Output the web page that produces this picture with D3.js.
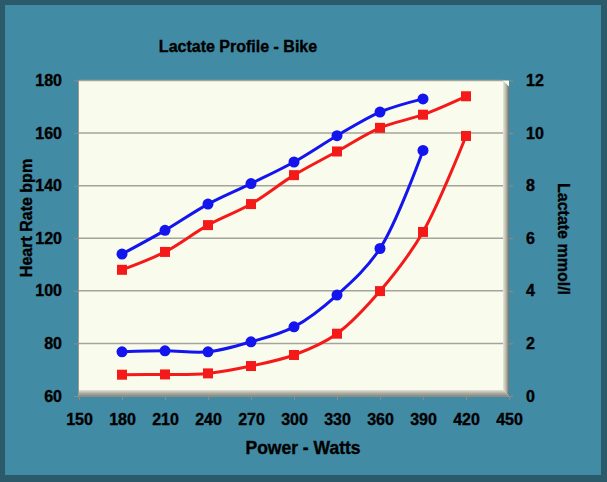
<!DOCTYPE html>
<html><head><meta charset="utf-8">
<script src="https://cdn.jsdelivr.net/npm/d3@7"></script>
<style>
html,body{margin:0;padding:0;background:#2B5A6B;}
svg{display:block;}
text{font-family:"Liberation Sans",Arial,sans-serif;font-weight:bold;fill:#000;stroke:#000;stroke-width:0.35px;}
</style></head>
<body>
<script>
// ---- data ----
const powerHR1 = [180,210,240,270,300,330,360,390];
const heartRate1 = [114,123,133,140.8,149,159,168,173];
const lactate1 = [1.68,1.72,1.68,2.06,2.63,3.84,5.61,9.34];

const powerHR2 = [180,210,240,270,300,330,360,390,420];
const heartRate2 = [108,114.8,125,133,144,153,162,167,174];
const lactate2 = [0.81,0.82,0.86,1.14,1.56,2.37,3.99,6.24,9.89];

const xTicks = [150,180,210,240,270,300,330,360,390,420,450];
const hrTicks = [60,80,100,120,140,160,180];
const lacTicks = [0,2,4,6,8,10,12];

const W = 607, H = 482;
const svg = d3.select("body").append("svg").attr("width",W).attr("height",H);

// frame
svg.append("rect").attr("x",0).attr("y",0).attr("width",W).attr("height",H).attr("fill","#2B5A6B");
svg.append("rect").attr("x",5).attr("y",5).attr("width",596).attr("height",470).attr("fill","#418BA5");

const L = 79, R = 509, T = 80.5, B = 396;
const x = d3.scaleLinear().domain([150,450]).range([L,R]);
const yL = d3.scaleLinear().domain([60,180]).range([B,T]);
const yR = d3.scaleLinear().domain([0,12]).range([B,T]);

// plot area
const defs = svg.append("defs");
const gR = defs.append("linearGradient").attr("id","gr").attr("x1",0).attr("x2",1).attr("y1",0).attr("y2",0);
gR.append("stop").attr("offset",0).attr("stop-color","#E6E8D8");
gR.append("stop").attr("offset",0.5).attr("stop-color","#B8B8AC");
gR.append("stop").attr("offset",1).attr("stop-color","#6E6E6A");
const gB = defs.append("linearGradient").attr("id","gb").attr("x1",0).attr("x2",0).attr("y1",0).attr("y2",1);
gB.append("stop").attr("offset",0).attr("stop-color","#E2E4D4");
gB.append("stop").attr("offset",0.5).attr("stop-color","#B0B0A4");
gB.append("stop").attr("offset",1).attr("stop-color","#8A8A84");

svg.append("rect").attr("x",L).attr("y",T).attr("width",R-L).attr("height",B-T).attr("fill","#F9FCEC");
// right wall
svg.append("polygon").attr("points",`${R-6},${T} ${R},${T+6} ${R},${B} ${R-6},${B-6}`).attr("fill","url(#gr)");
// floor
svg.append("polygon").attr("points",`${L},${B-6} ${R-6},${B-6} ${R},${B} ${L},${B}`).attr("fill","url(#gb)");
svg.append("line").attr("x1",L-0.5).attr("x2",L-0.5).attr("y1",T).attr("y2",B).attr("stroke","#9A9A90").attr("stroke-width",1);

// gridlines
svg.append("g").selectAll("line").data(hrTicks.slice(1)).join("line")
  .attr("x1",L).attr("x2",R-6).attr("y1",d=>yL(d)).attr("y2",d=>yL(d))
  .attr("stroke","#A4A49C").attr("stroke-width",1.5);

// axes
const axB = svg.append("g").attr("transform",`translate(0,${B})`)
  .call(d3.axisBottom(x).tickValues(xTicks).tickSize(4).tickPadding(14).tickFormat(d3.format("d")));
const axL = svg.append("g").attr("transform",`translate(${L},0)`)
  .call(d3.axisLeft(yL).tickValues(hrTicks).tickSize(5).tickPadding(12));
const axR = svg.append("g").attr("transform",`translate(${R},0)`)
  .call(d3.axisRight(yR).tickValues(lacTicks).tickSize(4).tickPadding(13));
[axB,axL,axR].forEach(a=>{
  a.select(".domain").attr("stroke","#8C8C88").attr("stroke-width",1.2);
  a.selectAll(".tick line").attr("stroke","#8C8C88");
  a.selectAll(".tick text").attr("font-size","16px").attr("font-weight","bold").attr("fill","#000")
    .attr("font-family","Liberation Sans, Arial, sans-serif");
});
axB.select(".domain").remove();
axB.append("line").attr("x1",L-5).attr("x2",R+4).attr("y1",0.5).attr("y2",0.5).attr("stroke","#8C8C88").attr("stroke-width",1.2);
axL.select(".domain").remove();
axR.select(".domain").remove();

// lines
const colBlue = "#1414EE", colRed = "#F51A1A";
function drawSeries(xs, ys, yScale, color, shape){
  const pts = xs.map((v,i)=>[x(v), yScale(ys[i])]);
  svg.append("path").attr("d", d3.line().curve(d3.curveCatmullRom.alpha(0.5))(pts))
    .attr("fill","none").attr("stroke",color).attr("stroke-width",3);
  const g = svg.append("g");
  if(shape==="circle"){
    g.selectAll("circle").data(pts).join("circle").attr("cx",d=>d[0]).attr("cy",d=>d[1]).attr("r",5.5).attr("fill",color);
  } else {
    g.selectAll("rect").data(pts).join("rect").attr("x",d=>d[0]-5).attr("y",d=>d[1]-5).attr("width",10).attr("height",10).attr("fill",color);
  }
}
drawSeries(powerHR2, lactate2, yR, colRed, "square");
drawSeries(powerHR1, lactate1, yR, colBlue, "circle");
drawSeries(powerHR2, heartRate2, yL, colRed, "square");
drawSeries(powerHR1, heartRate1, yL, colBlue, "circle");

// titles
svg.append("text").attr("x",238).attr("y",52).attr("text-anchor","middle").attr("font-size","16px").text("Lactate Profile - Bike");
svg.append("text").attr("x",303).attr("y",454).attr("text-anchor","middle").attr("font-size","17.5px").text("Power - Watts");
svg.append("text").attr("transform","translate(32,218) rotate(-90)").attr("text-anchor","middle").attr("font-size","16px").text("Heart Rate bpm");
svg.append("text").attr("transform","translate(558,239) rotate(90)").attr("text-anchor","middle").attr("font-size","16px").text("Lactate mmol/l");
</script>
</body></html>
